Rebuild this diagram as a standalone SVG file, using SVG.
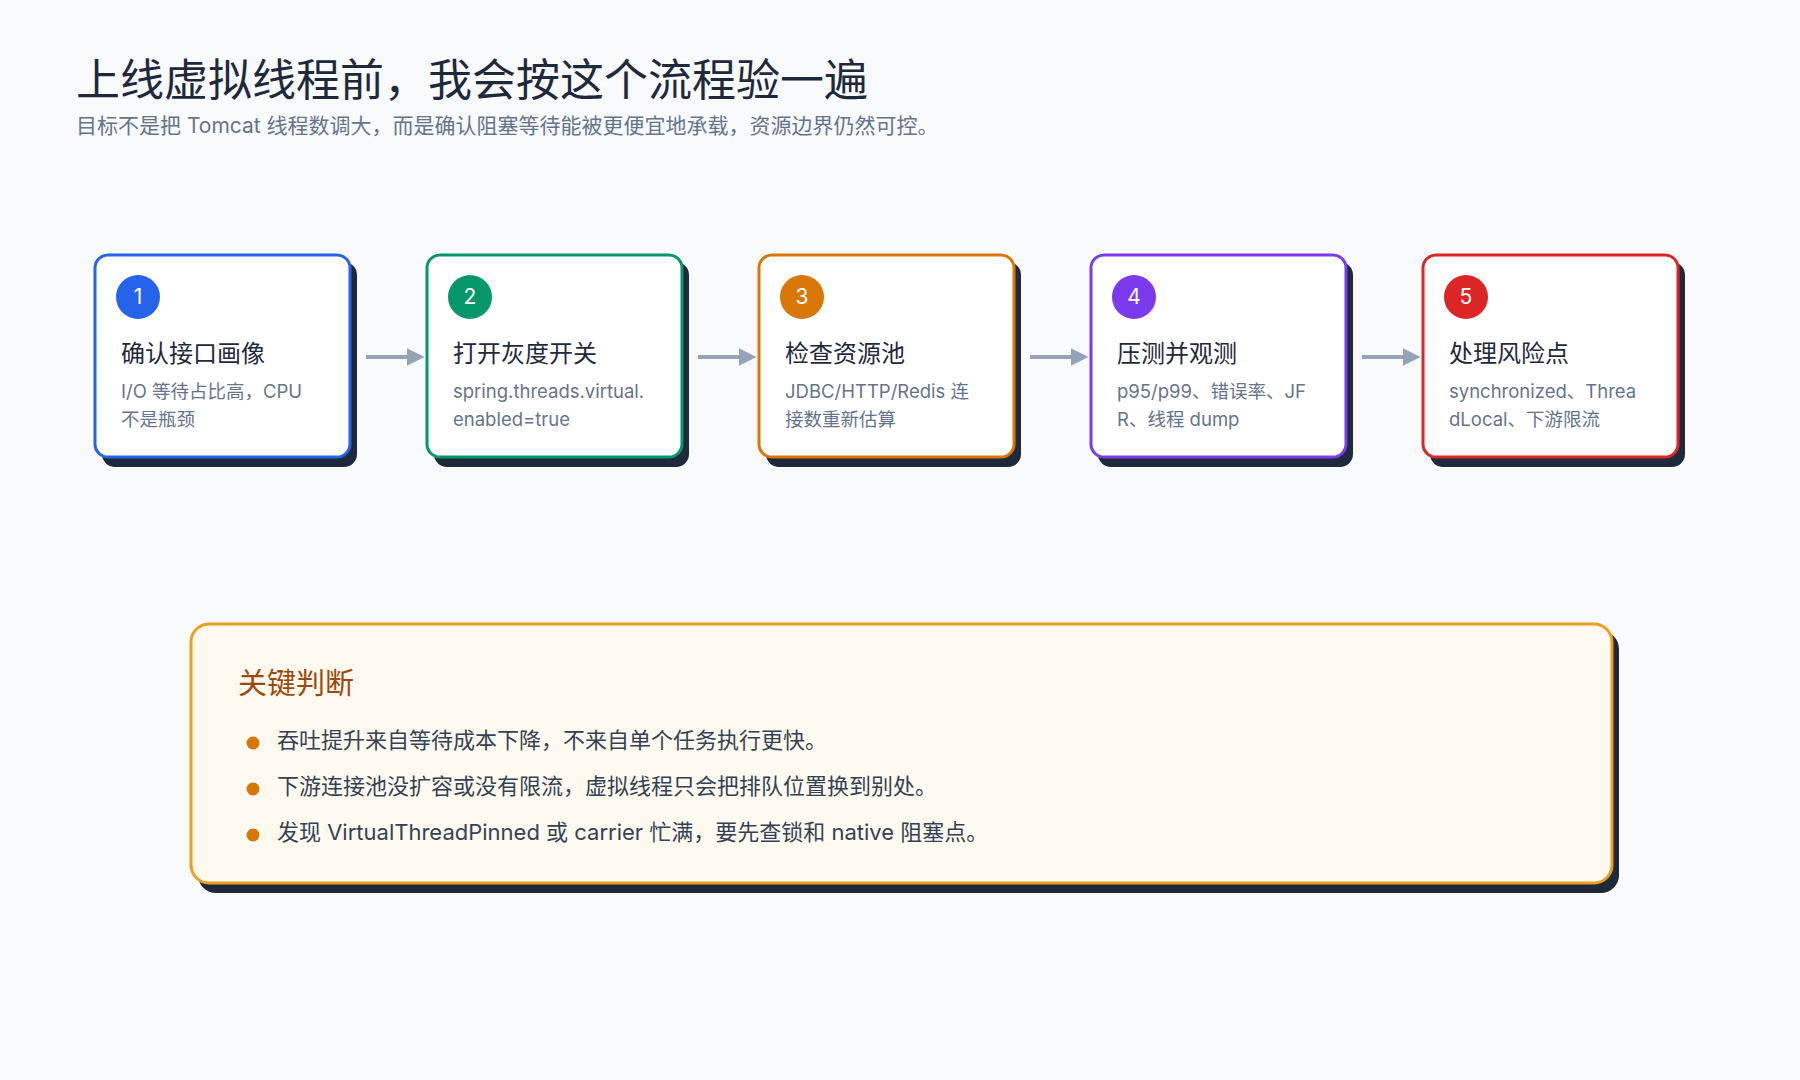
<svg xmlns="http://www.w3.org/2000/svg" width="1800" height="1080" viewBox="0 0 1800 1080">
<style>
text{font-family:Inter,"Noto Sans CJK SC",sans-serif}
.shadow{fill:#1e293b}
.card{fill:#fff;stroke-width:3}
.num{fill:#fff;font-size:21px;text-anchor:middle}
.ct{fill:#1e293b;font-size:24px}
.cd{fill:#64748b;font-size:18.5px}
.arr{stroke:#94a3b8;stroke-width:4;fill:none;marker-end:url(#ah)}
.bt{fill:#334155;font-size:22px}
.dot{fill:#d97706}
</style>
<defs><marker id="ah" viewBox="0 0 10 10" refX="8" refY="5" markerWidth="4.5" markerHeight="4.5" orient="auto"><path d="M0,0L10,5L0,10z" fill="#94a3b8"/></marker></defs>
<rect width="1800" height="1080" fill="#f8fafc"/>
<text x="76" y="96" font-size="44" fill="#1e293b">上线虚拟线程前，我会按这个流程验一遍</text>
<text x="76" y="133" font-size="21" fill="#64748b">目标不是把 Tomcat 线程数调大，而是确认阻塞等待能被更便宜地承载，资源边界仍然可控。</text>
<g id="connectors">
<path class="arr" d="M366,357H421"/><path class="arr" d="M698,357H753"/><path class="arr" d="M1030,357H1085"/><path class="arr" d="M1362,357H1417"/>
</g>
<g id="n1"><rect class="shadow" x="102" y="262" width="255" height="205" rx="13"/><rect class="card" stroke="#2563eb" x="95" y="255" width="255" height="202" rx="13"/><circle cx="138" cy="297" r="22" fill="#2563eb"/><text class="num" x="138" y="304">1</text><text class="ct" x="121" y="362">确认接口画像</text><text class="cd" x="121" y="398">I/O 等待占比高，CPU</text><text class="cd" x="121" y="426">不是瓶颈</text></g>
<g id="n2"><rect class="shadow" x="434" y="262" width="255" height="205" rx="13"/><rect class="card" stroke="#059669" x="427" y="255" width="255" height="202" rx="13"/><circle cx="470" cy="297" r="22" fill="#059669"/><text class="num" x="470" y="304">2</text><text class="ct" x="453" y="362">打开灰度开关</text><text class="cd" x="453" y="398">spring.threads.virtual.</text><text class="cd" x="453" y="426">enabled=true</text></g>
<g id="n3"><rect class="shadow" x="766" y="262" width="255" height="205" rx="13"/><rect class="card" stroke="#d97706" x="759" y="255" width="255" height="202" rx="13"/><circle cx="802" cy="297" r="22" fill="#d97706"/><text class="num" x="802" y="304">3</text><text class="ct" x="785" y="362">检查资源池</text><text class="cd" x="785" y="398">JDBC/HTTP/Redis 连</text><text class="cd" x="785" y="426">接数重新估算</text></g>
<g id="n4"><rect class="shadow" x="1098" y="262" width="255" height="205" rx="13"/><rect class="card" stroke="#7c3aed" x="1091" y="255" width="255" height="202" rx="13"/><circle cx="1134" cy="297" r="22" fill="#7c3aed"/><text class="num" x="1134" y="304">4</text><text class="ct" x="1117" y="362">压测并观测</text><text class="cd" x="1117" y="398">p95/p99、错误率、JF</text><text class="cd" x="1117" y="426">R、线程 dump</text></g>
<g id="n5"><rect class="shadow" x="1430" y="262" width="255" height="205" rx="13"/><rect class="card" stroke="#dc2626" x="1423" y="255" width="255" height="202" rx="13"/><circle cx="1466" cy="297" r="22" fill="#dc2626"/><text class="num" x="1466" y="304">5</text><text class="ct" x="1449" y="362">处理风险点</text><text class="cd" x="1449" y="398">synchronized、Threa</text><text class="cd" x="1449" y="426">dLocal、下游限流</text></g>
<g id="summary"><rect class="shadow" x="198" y="631" width="1421" height="262" rx="18"/><rect x="191" y="624" width="1421" height="259" rx="18" fill="#fffaf0" stroke="#e8a020" stroke-width="3"/>
<text x="238" y="694" font-size="29" fill="#9a4a0f">关键判断</text>
<circle class="dot" cx="253" cy="743" r="6.5"/><text class="bt" x="277" y="748">吞吐提升来自等待成本下降，不来自单个任务执行更快。</text>
<circle class="dot" cx="253" cy="789" r="6.5"/><text class="bt" x="277" y="794">下游连接池没扩容或没有限流，虚拟线程只会把排队位置换到别处。</text>
<circle class="dot" cx="253" cy="835" r="6.5"/><text class="bt" x="277" y="840">发现 VirtualThreadPinned 或 carrier 忙满，要先查锁和 native 阻塞点。</text></g>
</svg>
